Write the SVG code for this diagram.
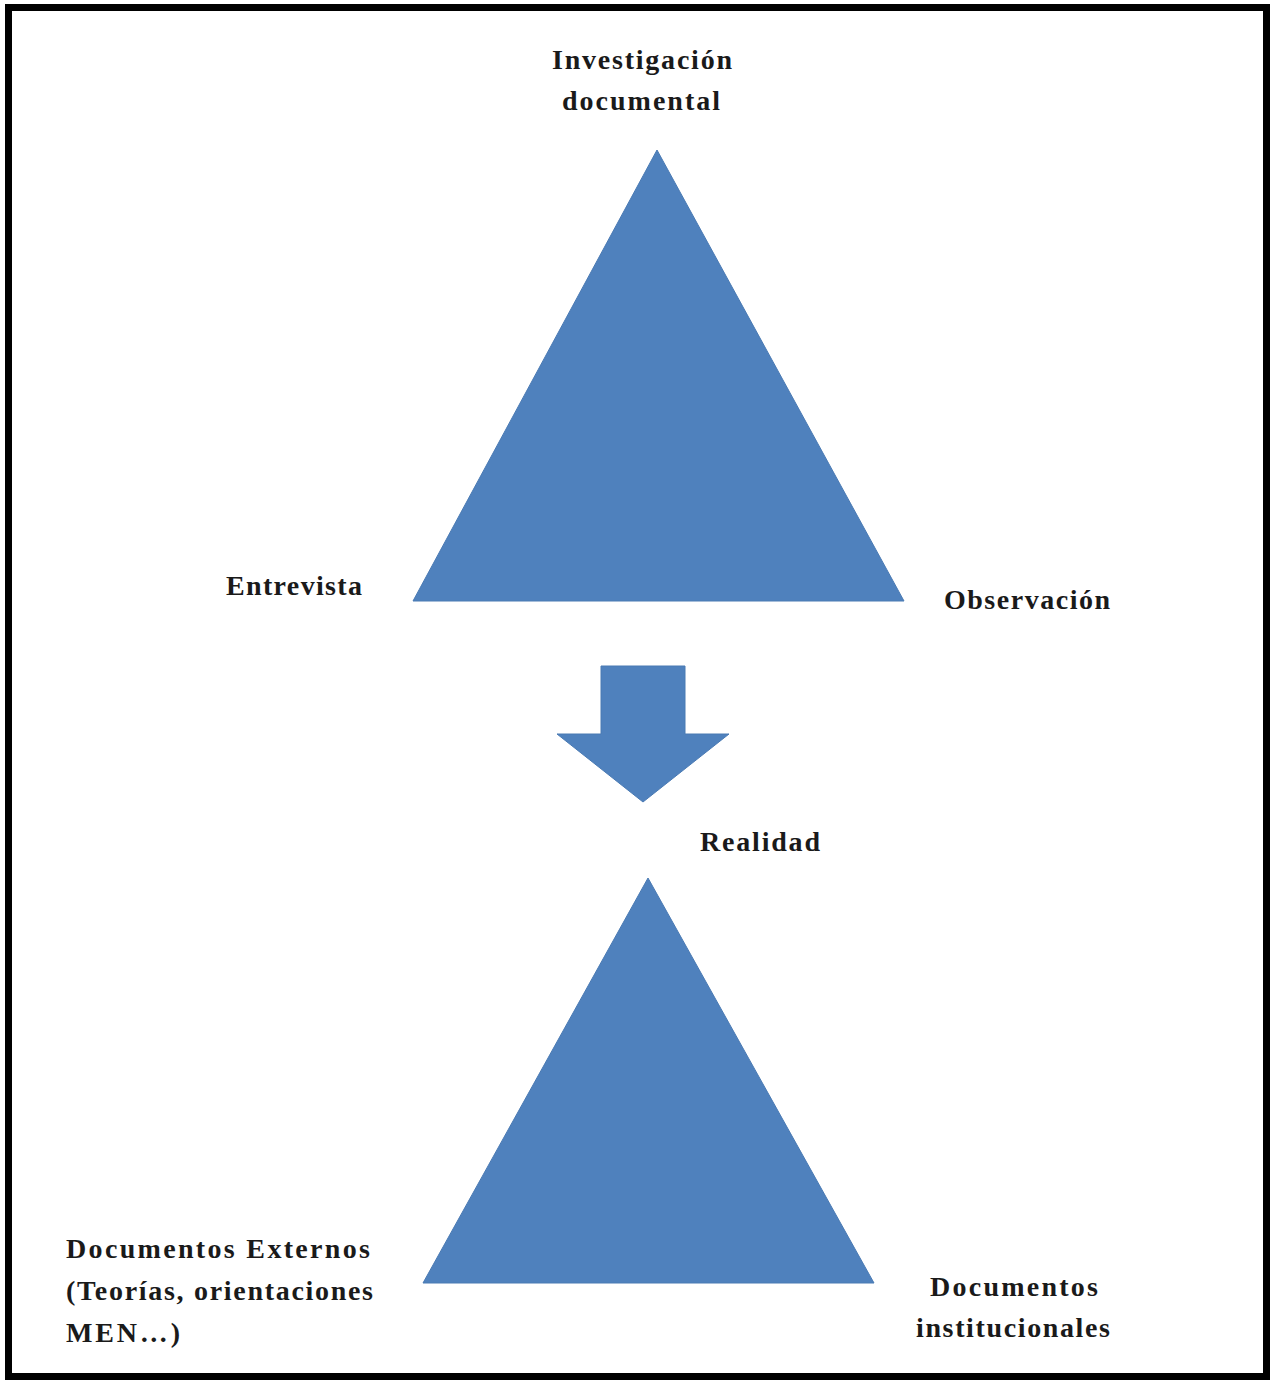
<svg xmlns="http://www.w3.org/2000/svg" width="1277" height="1383" viewBox="0 0 1277 1383">
<style>
.t{font-family:"Liberation Serif","Times New Roman",serif;font-weight:bold;font-size:28px;fill:#1a1a1a}
.s{fill:#4F81BD;stroke:#4A7AB3;stroke-width:1}
</style>
<rect x="0" y="0" width="1277" height="1383" fill="#fff"/>
<rect x="8.5" y="7.5" width="1258" height="1369" fill="#fff" stroke="#000" stroke-width="7"/>
<g id="triangulo-superior"><polygon class="s" points="657,150 904,601 413,601"/></g>
<g id="triangulo-inferior"><polygon class="s" points="648,878 874,1283 423,1283"/></g>
<g id="connectors"><polygon class="s" points="601,666 685,666 685,734 729,734 643,802 557,734 601,734"/></g>
<g id="investigacion"><text class="t" x="552" y="69" textLength="180" lengthAdjust="spacing">Investigación</text><text class="t" x="562" y="110" textLength="158" lengthAdjust="spacing">documental</text></g>
<g id="entrevista"><text class="t" x="226" y="595" textLength="136" lengthAdjust="spacing">Entrevista</text></g>
<g id="observacion"><text class="t" x="944" y="609" textLength="166" lengthAdjust="spacing">Observación</text></g>
<g id="realidad"><text class="t" x="700" y="851" textLength="120" lengthAdjust="spacing">Realidad</text></g>
<g id="documentos-externos"><text class="t" x="66" y="1258" textLength="304" lengthAdjust="spacing">Documentos  Externos</text><text class="t" x="66" y="1300" textLength="307" lengthAdjust="spacing">(Teorías, orientaciones</text><text class="t" x="66" y="1342" textLength="114" lengthAdjust="spacing">MEN…)</text></g>
<g id="documentos-institucionales"><text class="t" x="930" y="1296" textLength="168" lengthAdjust="spacing">Documentos</text><text class="t" x="916" y="1337" textLength="194" lengthAdjust="spacing">institucionales</text></g>
</svg>
